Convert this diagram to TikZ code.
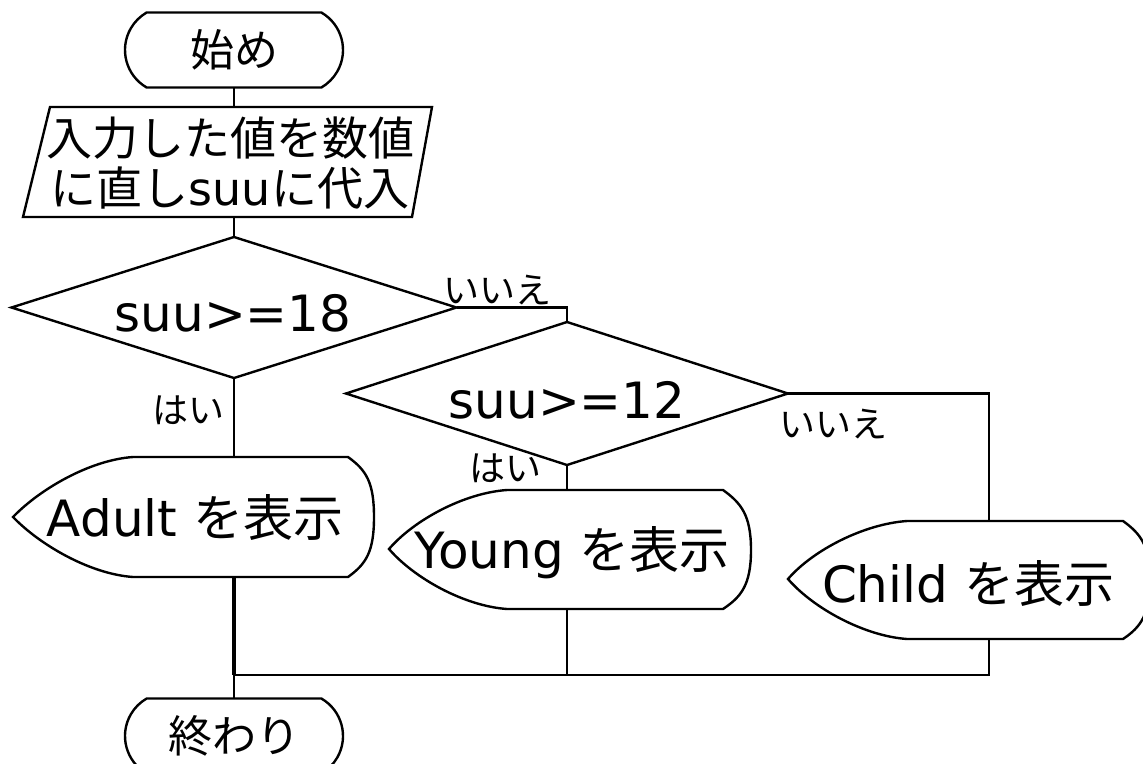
\documentclass[tikz,border=0pt]{standalone}
\usepackage{fontspec}
\setmainfont{DejaVu Sans}
\newfontfamily\jp{Noto Sans CJK JP}
\usetikzlibrary{shapes.geometric,shapes.misc}
\begin{document}
\begin{tikzpicture}[x=1pt,y=-1pt,line width=2.4pt,line join=miter,
  every node/.style={inner sep=0pt,outer sep=0pt},
  term/.style={draw,rounded rectangle,rounded rectangle arc length=120,minimum width=218pt,minimum height=75pt,font=\fontsize{44}{50}\selectfont\jp},
  dec/.style={draw,diamond,aspect=3.15},
  bigtxt/.style={font=\fontsize{50}{56}\selectfont},
  inptxt/.style={align=center,font=\fontsize{46}{50}\selectfont},
  lbl/.style={font=\fontsize{36}{40}\selectfont\jp}]
\useasboundingbox (0,0) rectangle (1143,763);
% start
\node[term] (start) at (234,50) {始め};
% input parallelogram
\draw (50,107) -- (432,107) -- (412,217) -- (23,217) -- cycle;
\coordinate (inpN) at (234,107);
\coordinate (inpS) at (234,217);
\node[inptxt] (inp) at (230,163) {{\jp 入力した値を数値}\\{\jp に直し}suu{\jp に代入}};
% decisions
\node[dec,minimum width=445pt,minimum height=141pt] (d1) at (234,307.5) {};
\node[bigtxt] (d1t) at (233,313) {suu>=18};
\node[dec,minimum width=442pt,minimum height=143pt] (d2) at (567,393.5) {};
\node[bigtxt] (d2t) at (567,400) {suu>=12};
% labels
\node[lbl] (no1) at (497,290) {いいえ};
\node[lbl] (yes1) at (188,410) {はい};
\node[lbl] (yes2) at (505,468) {はい};
\node[lbl] (no2) at (833,424) {いいえ};
% display Adult
\draw (133,457) -- (348,457) .. controls (366,470) and (374,482) .. (374,517)
  .. controls (374,552) and (366,564) .. (348,577) -- (133,577)
  .. controls (90,574) and (40,545) .. (13,517)
  .. controls (40,489) and (90,460) .. (133,457) -- cycle;
\coordinate (adultN) at (234,457);
\coordinate (adultS) at (234,577);
\node[bigtxt] (adult) at (195,517) {Adult {\jp を表示}};
% display Young
\draw (507,490) -- (723,490) .. controls (741,503) and (751,515) .. (751,550)
  .. controls (751,585) and (741,597) .. (723,609) -- (507,609)
  .. controls (464,606) and (414,578) .. (389,549)
  .. controls (414,520) and (464,493) .. (507,490) -- cycle;
\coordinate (youngN) at (567,490);
\coordinate (youngS) at (567,609);
\node[bigtxt] (young) at (572,553) {Young {\jp を表示}};
% display Child
\draw (907,521) -- (1123,521) .. controls (1141,534) and (1150,546) .. (1150,580)
  .. controls (1150,614) and (1141,627) .. (1123,639) -- (907,639)
  .. controls (864,636) and (813,608) .. (788,579)
  .. controls (813,550) and (864,524) .. (907,521) -- cycle;
\coordinate (childN) at (989,521);
\coordinate (childS) at (989,639);
\node[bigtxt] (child) at (968,583) {Child {\jp を表示}};
% end
\node[term] (end) at (234,736) {終わり};
\coordinate (join) at (234,675);
% connectors
\draw (start.south) -- (inpN);
\draw (inpS) -- (d1.north);
\draw (d1.east) -| (d2.north);
\draw (d1.south) -- (adultN);
\draw (d2.south) -- (youngN);
\draw (d2.east) -| (childN);
\draw[line width=3.4pt] (adultS) -- (join);
\draw (youngS) -- (youngS |- join);
\draw (childS) |- (join);
\draw (join) -- (end.north);
\end{tikzpicture}
\end{document}
